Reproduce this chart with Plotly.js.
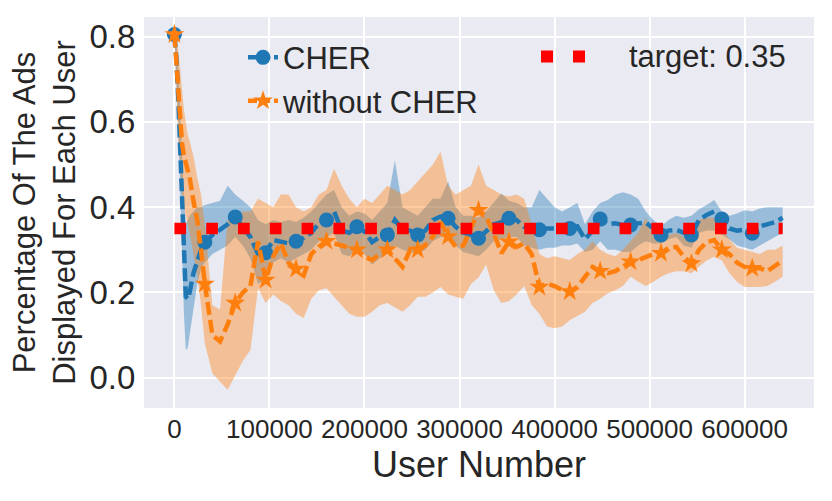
<!DOCTYPE html>
<html><head><meta charset="utf-8">
<script src="https://cdn.plot.ly/plotly-3.0.1.min.js"></script>
<style>html,body{margin:0;padding:0;background:#fff}#chart{width:832px;height:501px}</style>
</head><body><div id="chart"></div>
<script>
// ---- data ----
const users = [0,2000,4000,6000,8000,10000,12000,14000,16000,20000,24000,28000,
  32000,40000,48000,56000,64000,72000,80000,88000,96000,104000,
  112000,120000,128000,136000,144000,152000,160000,168000,176000,184000,
  192000,200000,208000,216000,224000,232000,240000,248000,256000,264000,
  272000,280000,288000,296000,304000,312000,320000,328000,336000,344000,
  352000,360000,368000,376000,384000,392000,400000,408000,416000,424000,
  432000,440000,448000,456000,464000,472000,480000,488000,496000,504000,
  512000,520000,528000,536000,544000,552000,560000,568000,576000,584000,
  592000,600000,608000,616000,624000,632000,640000];

const cherMean = [0.805,0.75,0.66,0.54,0.40,0.27,0.19,0.185,0.20,0.245,0.275,0.30,
  0.318,0.335,0.347,0.36,0.377,0.354,0.33,0.29,0.293,0.323,
  0.32,0.315,0.32,0.328,0.34,0.362,0.37,0.39,0.345,0.34,
  0.354,0.343,0.318,0.33,0.335,0.37,0.347,0.345,0.335,0.345,
  0.37,0.378,0.374,0.354,0.34,0.335,0.327,0.345,0.36,0.365,
  0.374,0.37,0.354,0.35,0.347,0.35,0.35,0.354,0.35,0.355,
  0.325,0.345,0.372,0.36,0.362,0.358,0.358,0.362,0.364,0.35,
  0.335,0.345,0.347,0.34,0.335,0.37,0.382,0.39,0.372,0.35,
  0.345,0.347,0.339,0.355,0.36,0.365,0.375];
const cherHigh = [0.81,0.79,0.73,0.63,0.52,0.42,0.36,0.37,0.38,0.39,0.40,0.40,
  0.405,0.41,0.415,0.45,0.43,0.415,0.40,0.37,0.36,0.37,
  0.365,0.37,0.365,0.375,0.39,0.41,0.43,0.44,0.40,0.38,
  0.39,0.385,0.37,0.39,0.41,0.51,0.40,0.39,0.38,0.40,
  0.42,0.42,0.46,0.40,0.38,0.38,0.375,0.39,0.41,0.432,
  0.415,0.41,0.40,0.40,0.44,0.42,0.40,0.39,0.40,0.41,
  0.36,0.39,0.41,0.417,0.43,0.435,0.43,0.42,0.39,0.37,
  0.355,0.37,0.38,0.375,0.38,0.395,0.405,0.417,0.39,0.38,
  0.385,0.393,0.39,0.397,0.40,0.40,0.40];
const cherLow = [0.80,0.71,0.59,0.45,0.30,0.15,0.065,0.07,0.10,0.16,0.22,0.255,
  0.27,0.29,0.30,0.31,0.33,0.31,0.28,0.22,0.23,0.27,
  0.28,0.27,0.28,0.29,0.30,0.32,0.33,0.34,0.29,0.285,
  0.30,0.29,0.265,0.28,0.29,0.31,0.30,0.295,0.29,0.30,
  0.32,0.33,0.33,0.31,0.295,0.29,0.285,0.30,0.32,0.325,
  0.33,0.33,0.31,0.305,0.30,0.305,0.305,0.31,0.31,0.315,
  0.295,0.30,0.32,0.30,0.30,0.295,0.295,0.31,0.32,0.315,
  0.315,0.325,0.33,0.31,0.305,0.34,0.345,0.345,0.335,0.325,
  0.31,0.305,0.30,0.31,0.32,0.33,0.34];

const noCherMean = [0.805,0.74,0.65,0.60,0.55,0.52,0.50,0.485,0.47,0.415,0.37,0.30,
  0.22,0.10,0.085,0.125,0.175,0.20,0.215,0.32,0.229,0.285,
  0.315,0.27,0.255,0.24,0.29,0.307,0.32,0.315,0.31,0.307,
  0.30,0.284,0.276,0.29,0.30,0.28,0.26,0.30,0.30,0.311,
  0.331,0.365,0.331,0.307,0.31,0.35,0.393,0.378,0.339,0.292,
  0.319,0.307,0.315,0.29,0.213,0.221,0.215,0.206,0.202,0.213,
  0.237,0.26,0.25,0.245,0.25,0.26,0.272,0.276,0.284,0.29,
  0.292,0.304,0.307,0.284,0.268,0.30,0.318,0.323,0.30,0.29,
  0.27,0.26,0.257,0.257,0.25,0.262,0.275];
const noCherHigh = [0.81,0.78,0.77,0.72,0.68,0.63,0.60,0.57,0.555,0.52,0.47,0.43,
  0.36,0.17,0.16,0.37,0.38,0.39,0.39,0.42,0.41,0.40,
  0.43,0.43,0.40,0.39,0.40,0.43,0.44,0.49,0.45,0.42,
  0.40,0.42,0.41,0.43,0.45,0.44,0.43,0.44,0.46,0.48,
  0.50,0.53,0.45,0.43,0.44,0.45,0.50,0.45,0.44,0.43,
  0.425,0.43,0.42,0.36,0.29,0.28,0.285,0.28,0.276,0.29,
  0.30,0.32,0.30,0.29,0.285,0.30,0.32,0.34,0.375,0.33,
  0.323,0.335,0.34,0.33,0.33,0.37,0.375,0.375,0.35,0.325,
  0.305,0.30,0.295,0.29,0.30,0.30,0.31];
const noCherLow = [0.80,0.70,0.56,0.48,0.43,0.40,0.38,0.36,0.34,0.29,0.24,0.17,
  0.08,0.01,-0.01,-0.028,0.005,0.04,0.065,0.21,0.175,0.195,
  0.18,0.17,0.15,0.14,0.185,0.205,0.21,0.19,0.17,0.15,
  0.143,0.143,0.155,0.17,0.175,0.165,0.155,0.17,0.19,0.19,
  0.20,0.213,0.195,0.19,0.185,0.22,0.235,0.265,0.205,0.175,
  0.18,0.195,0.215,0.17,0.15,0.12,0.116,0.12,0.135,0.145,
  0.155,0.175,0.185,0.198,0.205,0.215,0.237,0.225,0.215,0.225,
  0.237,0.245,0.25,0.25,0.245,0.26,0.275,0.284,0.275,0.245,
  0.225,0.213,0.213,0.213,0.215,0.225,0.237];

const targetUsers = [0, 640000];
const targetValue = [0.35, 0.35];
const xTicks = [0,100000,200000,300000,400000,500000,600000];
const yTicks = [0.0,0.2,0.4,0.6,0.8];
const seriesNames = ['CHER','without CHER','target: 0.35'];

// ---- styling ----
const FONT = 'Liberation Sans, Arial, Helvetica, sans-serif';
const TEXT = '#262626';
const BLUE = '#1f77b4', ORANGE = '#ff7f0e', RED = '#ff0000';
const MARK_EVERY = 32000;
const lastUser = users[users.length - 1];
const markIdx = users.map((u, i) => i).filter(i => users[i] % MARK_EVERY === 0 && users[i] < lastUser);
const pick = (arr) => markIdx.map(i => arr[i]);
const DASH = '13px,5px';

const band = (y, fill, color) => ({
  x: users, y: y, mode: 'lines', line: {width: 0, color: color},
  fill: fill, fillcolor: color, showlegend: false, hoverinfo: 'skip'
});

const traces = [
  band(cherLow, 'none', 'rgba(31,119,180,0.4)'),
  band(cherHigh, 'tonexty', 'rgba(31,119,180,0.4)'),
  band(noCherLow, 'none', 'rgba(255,127,14,0.4)'),
  band(noCherHigh, 'tonexty', 'rgba(255,127,14,0.4)'),
  {x: users, y: cherMean, mode: 'lines', line: {color: BLUE, width: 4.5, dash: DASH}, showlegend: false},
  {x: pick(users), y: pick(cherMean), mode: 'markers', marker: {color: BLUE, size: 15, symbol: 'circle'}, showlegend: false},
  {x: users, y: noCherMean, mode: 'lines', line: {color: ORANGE, width: 4.5, dash: DASH}, showlegend: false},
  {x: pick(users), y: pick(noCherMean), mode: 'markers', marker: {color: ORANGE, size: 15, symbol: 'star'}, showlegend: false},
  {x: targetUsers, y: targetValue, mode: 'lines', line: {color: RED, width: 11.7, dash: '11.7px,20.1px'}, showlegend: false},
  // legend entries
  {x: [null], y: [null], name: seriesNames[0], mode: 'lines+markers', legend: 'legend',
   line: {color: BLUE, width: 4.5, dash: '9px,4px'}, marker: {color: BLUE, size: 15}},
  {x: [null], y: [null], name: seriesNames[1], mode: 'lines+markers', legend: 'legend',
   line: {color: ORANGE, width: 4.5, dash: '9px,4px'}, marker: {color: ORANGE, size: 15, symbol: 'star'}},
  {x: [null], y: [null], name: seriesNames[2], mode: 'lines', legend: 'legend2',
   line: {color: 'rgba(0,0,0,0)', width: 1}}
];

// plot area: x 144..814, y 17..408
const sq = (px0, px1, py0, py1) => ({
  type: 'rect', xref: 'paper', yref: 'paper',
  x0: (px0 - 144) / 670, x1: (px1 - 144) / 670,
  y0: (408 - py1) / 391, y1: (408 - py0) / 391,
  fillcolor: RED, line: {width: 0}, layer: 'above'
});

const layout = {
  width: 832, height: 501,
  margin: {l: 144, r: 18, t: 17, b: 93},
  paper_bgcolor: '#ffffff', plot_bgcolor: '#EAEAF2',
  font: {family: FONT, color: TEXT},
  xaxis: {
    range: [-32000, 673000], tickvals: xTicks, tickformat: 'd',
    showgrid: true, gridcolor: '#ffffff', gridwidth: 2, zeroline: false, showline: false,
    ticks: '', ticklabelstandoff: 3,
    tickfont: {size: 26, color: TEXT, family: FONT},
    title: {text: 'User Number', font: {size: 36, color: TEXT, family: FONT}, standoff: 0},
    automargin: false
  },
  yaxis: {
    range: [-0.071, 0.846], tickvals: yTicks, tickformat: '.1f',
    showgrid: true, gridcolor: '#ffffff', gridwidth: 2, zeroline: false, showline: false,
    ticks: 'outside', ticklen: 1, tickcolor: 'rgba(0,0,0,0)',
    tickfont: {size: 33, color: TEXT, family: FONT},
    title: {text: 'Percentage Of The Ads<br>Displayed For Each User', font: {size: 31, color: TEXT, family: FONT}, standoff: 4},
    automargin: false
  },
  legend: {x: 0.1478, y: 0.965, xanchor: 'left', yanchor: 'top', bgcolor: 'rgba(0,0,0,0)',
    font: {size: 31, color: TEXT, family: FONT}, tracegroupgap: 0, traceorder: 'normal'},
  legend2: {x: 0.664, y: 0.9705, xanchor: 'left', yanchor: 'top', bgcolor: 'rgba(0,0,0,0)',
    font: {size: 31, color: TEXT, family: FONT}},
  shapes: [sq(541, 553, 50.5, 62.5), sq(573, 585, 50.5, 62.5)],
  showlegend: true
};

Plotly.newPlot('chart', traces, layout, {staticPlot: true, displayModeBar: false});
</script></body></html>
